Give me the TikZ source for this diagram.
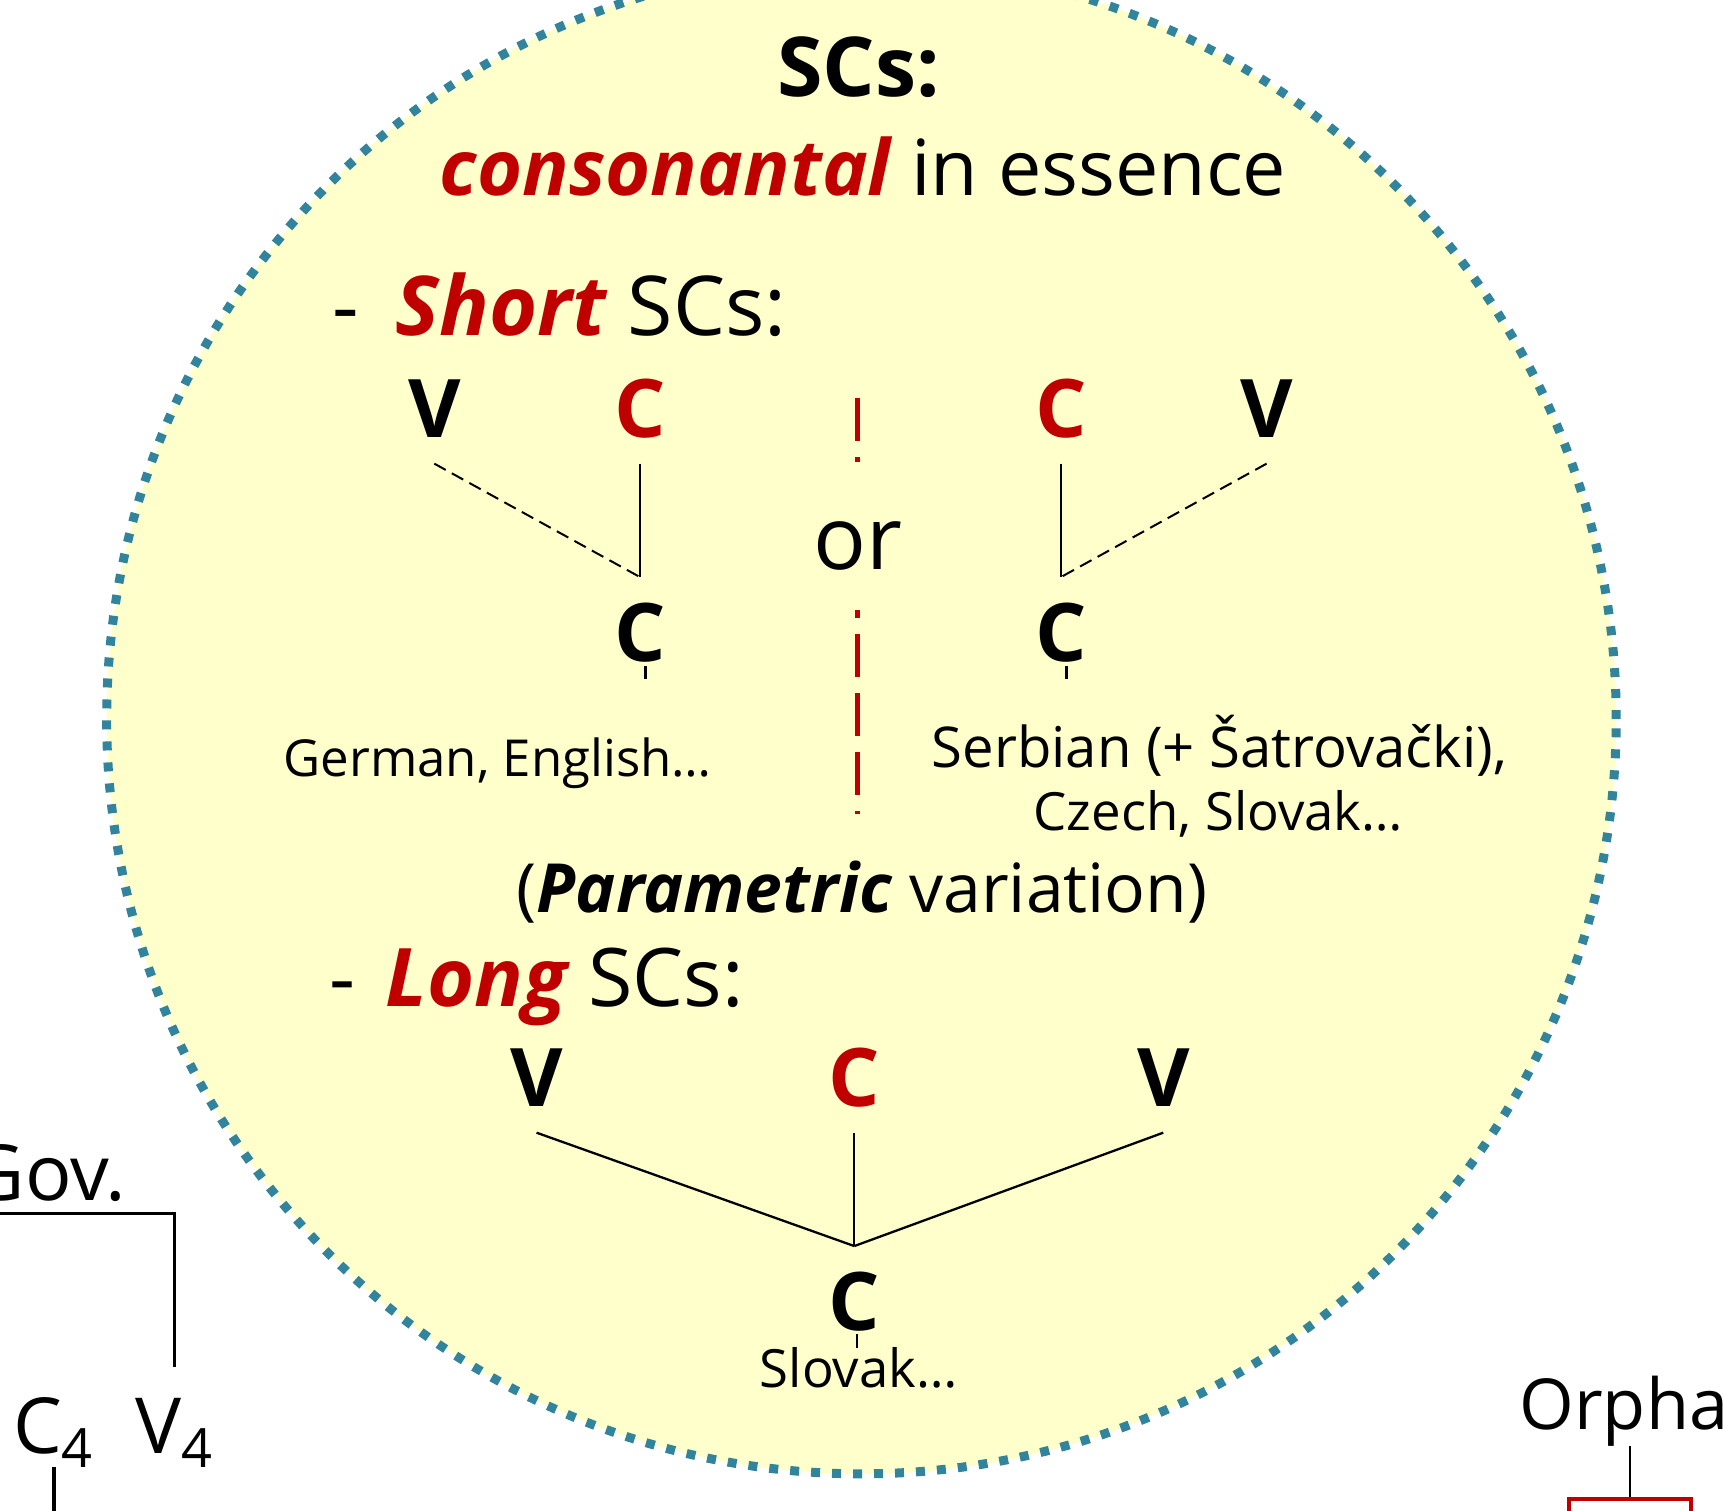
\documentclass[tikz,border=0pt]{standalone}
\usepackage{fontspec}
\setmainfont{Open Sans}
\usetikzlibrary{calc}
\definecolor{scred}{HTML}{C00000}
\definecolor{scteal}{HTML}{31849B}
\definecolor{scyellow}{HTML}{FFFFCC}
\newcommand\redbi[1]{{\color{scred}\bfseries\itshape #1}}
\newcommand\boldit[1]{{\bfseries\itshape #1}}
\begin{document}
\begin{tikzpicture}[x=0.10995mm, y=-0.10995mm,
  txt/.style={inner sep=0pt, outer sep=0pt, text=black},
  big/.style={txt, font=\fontsize{22}{26}\selectfont},
  seg/.style={inner sep=0pt, text height=16.4pt, text depth=0pt, outer xsep=0pt, outer ysep=7.5pt, font=\fontsize{23}{26}\selectfont\bfseries},
  lang/.style={txt, font=\fontsize{15}{18}\selectfont},
  ext/.style={inner sep=0pt, outer xsep=0pt, text height=15.7pt, text depth=0pt, font=\fontsize{22}{26}\selectfont},
  circ/.style={draw=scteal, fill=scyellow, line width=0.9mm, dash pattern=on 0.9mm off 1.2mm},
  solidline/.style={draw=black, line width=0.23mm},
  dashline/.style={draw=black, line width=0.2mm, dash pattern=on 1.3mm off 0.7mm},
  reddash/.style={draw=scred, line width=0.5mm, dash pattern=on 4.3mm off 1.6mm},
  govline/.style={draw=black, line width=0.33mm}
]
\useasboundingbox (0,0) rectangle (1568,1374);
\fill[white] (0,0) rectangle (1568,1374);
\clip (0,0) rectangle (1568,1374);

% circle
\path[circ] (783.5,654) circle [radius=75.48mm];

% heading
\node[txt, font=\fontsize{23.5}{26}\selectfont\bfseries, anchor=base] (title) at (781,88) {SCs:};
\node[big, anchor=base] (cons) at (785,178) {\redbi{consonantal} in essence};

% short SCs
\node[txt, font=\fontsize{23.5}{26}\selectfont, anchor=base west] (short) at (302,305) {-\hspace{0.45em}\redbi{Short} SCs:};
\node[seg] (v1) at (395,371.5) {V};
\node[seg, text=scred] (c1) at (582,371.5) {C};
\node[seg, text=scred] (c2) at (965,371.5) {C};
\node[seg] (v2) at (1152,371.5) {V};
\node[seg] (c1b) at (582,575) {C};
\node[seg] (c2b) at (965,575) {C};
\draw[dashline] (v1.south) -- (c1b.north);
\draw[solidline] (c1.south) -- (c1b.north);
\draw[solidline] (c2.south) -- (c2b.north);
\draw[dashline] (v2.south) -- (c2b.north);
\draw[solidline] ($(c1b.south)+(5,-19)$) -- ++(0,11);
\draw[solidline] ($(c2b.south)+(5,-19)$) -- ++(0,11);

% or + separator
\coordinate (rtop) at (780,362);
\coordinate (ortop) at (780,420);
\coordinate (orbot) at (780,555);
\coordinate (rbot) at (780,740);
\node[txt, font=\fontsize{25}{28}\selectfont, anchor=base] (or) at (780,518) {or};
\draw[reddash] (rtop) -- (ortop);
\draw[reddash, dash phase=3.5mm] (orbot) -- (rbot);

% languages
\node[lang, font=\fontsize{14.5}{18}\selectfont, anchor=base west] (ger) at (258,706) {German, English…};
\node[lang, font=\fontsize{16}{18}\selectfont, anchor=base] (ser1) at (1109,698) {Serbian (+ Šatrovački),};
\node[lang, anchor=base] (ser2) at (1108,755) {Czech, Slovak…};

\node[txt, font=\fontsize{19.3}{22}\selectfont, anchor=base] (param) at (784,830) {(\boldit{Parametric} variation)};

% long SCs
\node[txt, font=\fontsize{23}{26}\selectfont, anchor=base west] (long) at (300,915) {-\hspace{0.37em}\redbi{Long} SCs:};
\node[seg] (v3) at (488,980) {V};
\node[seg, text=scred] (c3) at (777,980) {C};
\node[seg] (v4) at (1058,980) {V};
\node[seg] (c3b) at (777,1183.5) {C};
\draw[solidline] (v3.south) -- (c3b.north);
\draw[solidline] (c3.south) -- (c3b.north);
\draw[solidline] (v4.south) -- (c3b.north);
\draw[solidline] ($(c3b.south)+(2.5,-20)$) -- ++(0,12);
\node[lang, anchor=base] (slov) at (781,1262) {Slovak…};

% outside the circle, left
\node[txt, font=\fontsize{22}{26}\selectfont, anchor=base east] (gov) at (115,1092) {Gov.};
\node[ext, outer ysep=3.75pt, anchor=base west] (c4n) at (12,1322) {C\textsubscript{4}};
\node[ext, outer ysep=8.8pt, anchor=base west] (v4n) at (123,1322) {V\textsubscript{4}};
\coordinate (govl) at (-10,1104);
\draw[govline] (govl) -| (v4n.north);
\draw[govline] (c4n.south) -- ++(0,60);

% outside the circle, right
\node[txt, font=\fontsize{20}{24}\selectfont, anchor=base west] (orph) at (1382,1300) {Orphan};
\node[draw=scred, line width=0.4mm, minimum width=12.2mm, minimum height=15mm, anchor=north, inner sep=0pt] (rbox) at (1482.5,1361.5) {};
\draw[line width=0.25mm] (rbox.north |- orph.south) -- (rbox.north);
\end{tikzpicture}
\end{document}
